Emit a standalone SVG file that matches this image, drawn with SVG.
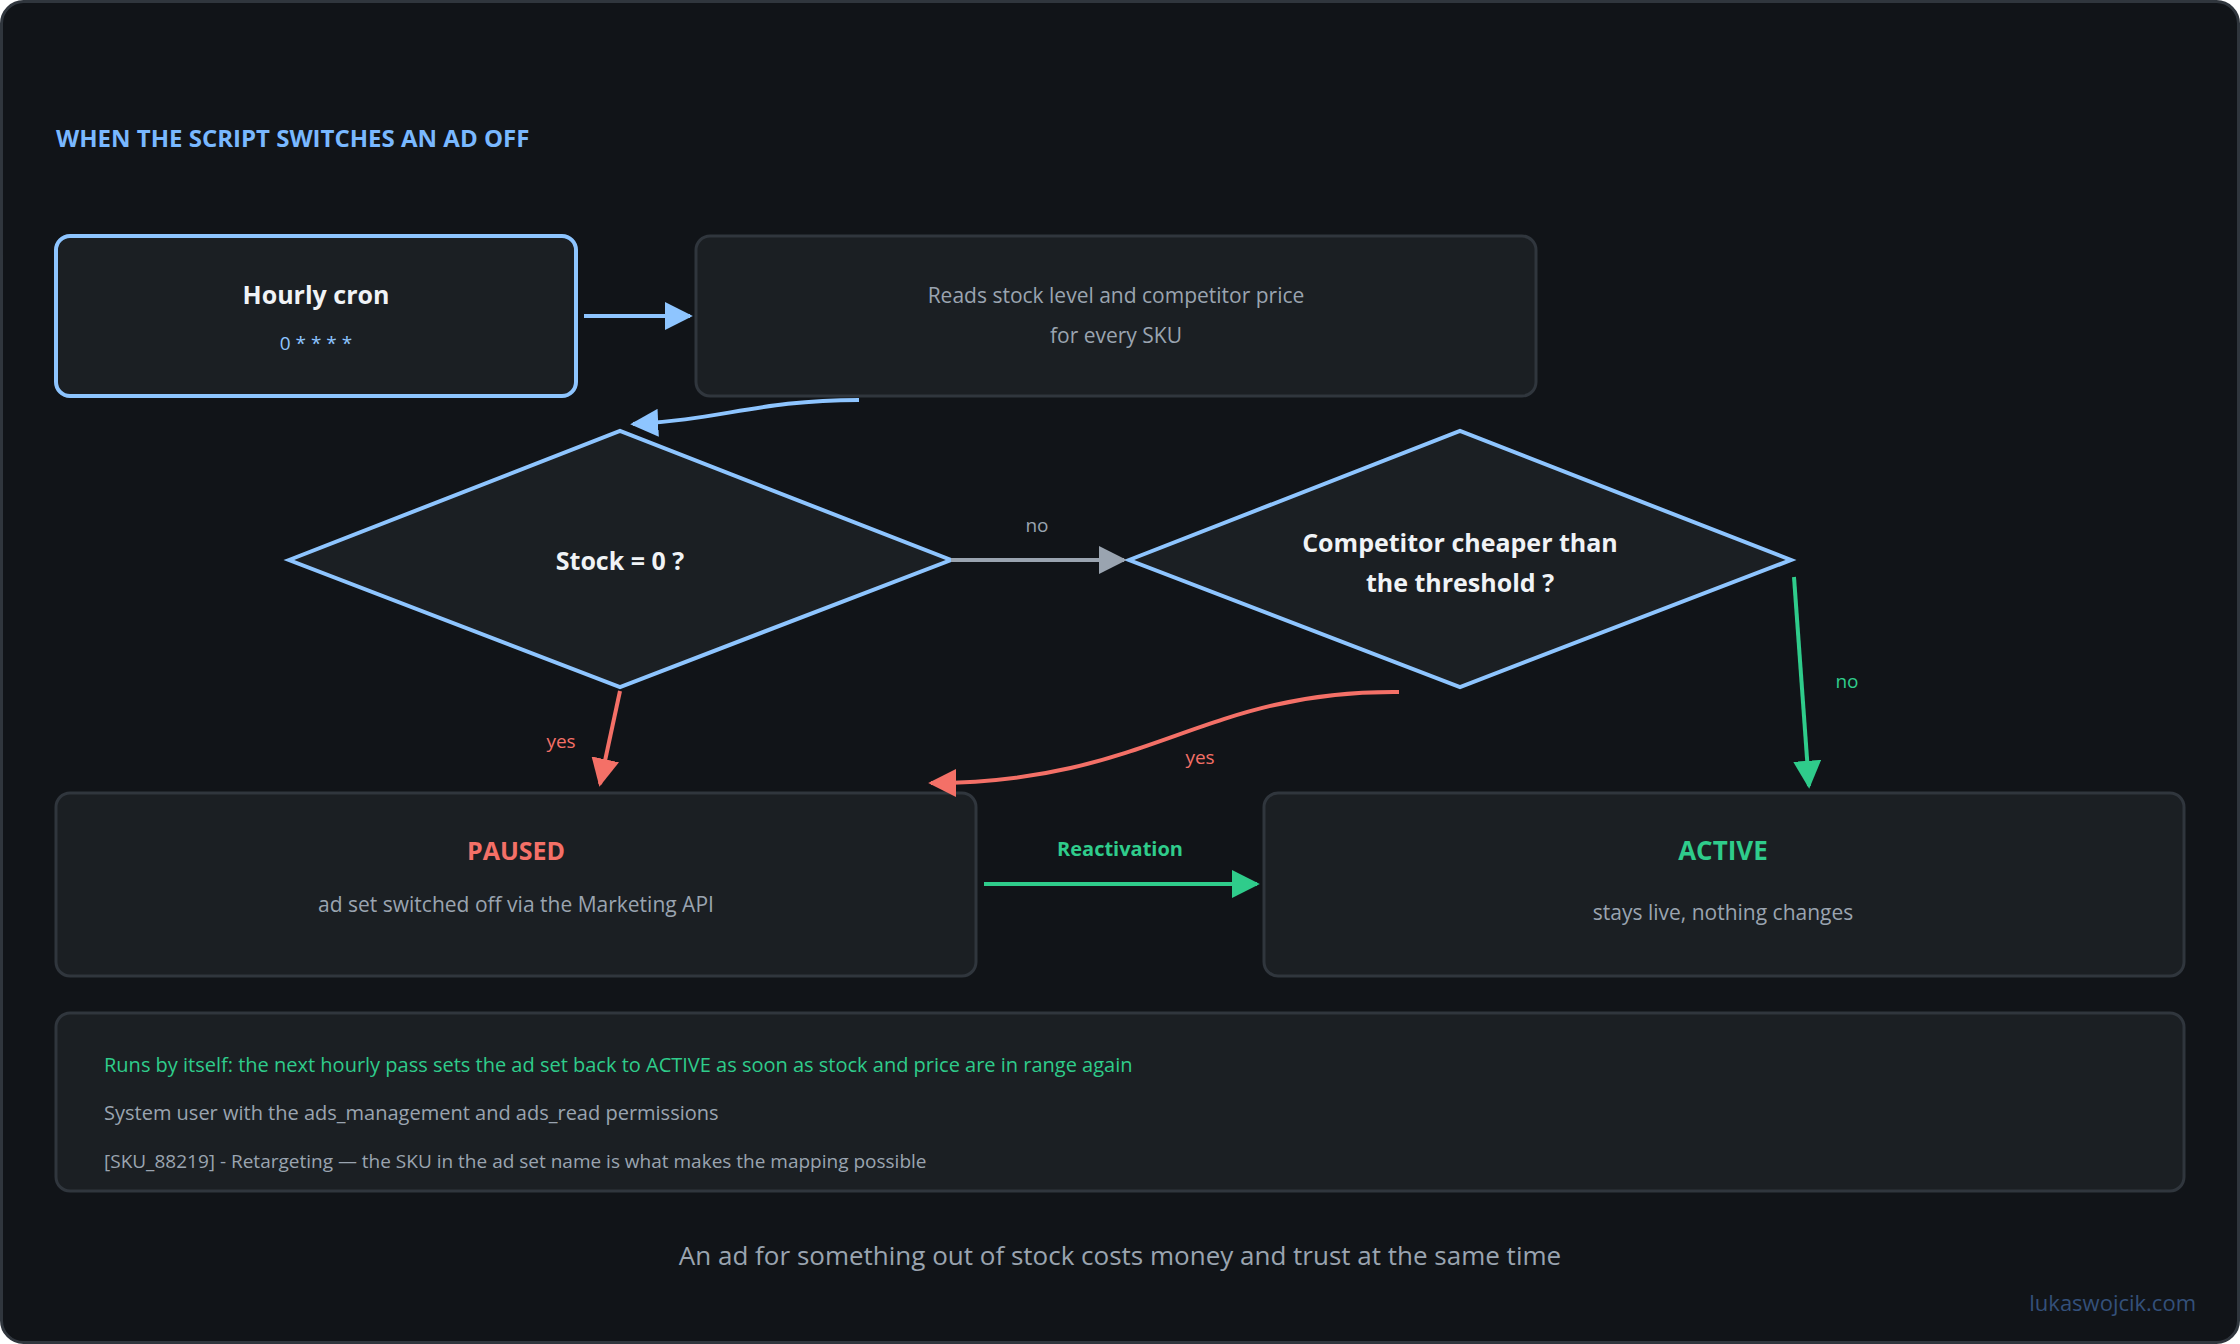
<svg xmlns="http://www.w3.org/2000/svg" width="2240" height="1344" viewBox="0 0 2240 1344">
<defs>
<style>
text{font-family:"Open Sans","Noto Sans","Liberation Sans",sans-serif}
.node{fill:#1b1f23;stroke:#30363d;stroke-width:3}
.hi{fill:#1b1f23;stroke:#8ec5ff;stroke-width:4}
.t{fill:#f0f3f6;font-weight:700;font-size:25px;text-anchor:middle}
.s{fill:#9aa4b0;font-size:21px;text-anchor:middle}
.l{font-size:19px;text-anchor:middle}
</style>
<marker id="mb" markerWidth="10" markerHeight="10" refX="9" refY="5" orient="auto" markerUnits="userSpaceOnUse" viewBox="0 0 10 10"><path d="M0,0L10,5L0,10z" fill="#8ec5ff"/></marker>
<marker id="ab" viewBox="0 0 10 10" refX="9" refY="5" markerWidth="28" markerHeight="28" orient="auto" markerUnits="userSpaceOnUse"><path d="M0,0L10,5L0,10z" fill="#8ec5ff"/></marker>
<marker id="ag" viewBox="0 0 10 10" refX="9" refY="5" markerWidth="28" markerHeight="28" orient="auto" markerUnits="userSpaceOnUse"><path d="M0,0L10,5L0,10z" fill="#2fcc8b"/></marker>
<marker id="ar" viewBox="0 0 10 10" refX="9" refY="5" markerWidth="28" markerHeight="28" orient="auto" markerUnits="userSpaceOnUse"><path d="M0,0L10,5L0,10z" fill="#f47067"/></marker>
<marker id="ay" viewBox="0 0 10 10" refX="9" refY="5" markerWidth="28" markerHeight="28" orient="auto" markerUnits="userSpaceOnUse"><path d="M0,0L10,5L0,10z" fill="#9aa4b0"/></marker>
</defs>
<rect x="1.5" y="1.5" width="2237" height="1341" rx="22" fill="#111418" stroke="#30363d" stroke-width="3"/>
<text x="56" y="147" font-size="24" font-weight="700" fill="#79b8ff">WHEN THE SCRIPT SWITCHES AN AD OFF</text>

<g id="cron"><rect class="hi" x="56" y="236" width="520" height="160" rx="14"/>
<text class="t" x="316" y="304">Hourly cron</text>
<text x="316" y="350" font-family="'DejaVu Sans Mono',monospace" font-size="19" fill="#8ec5ff" text-anchor="middle">0 * * * *</text></g>
<g id="reads"><rect class="node" x="696" y="236" width="840" height="160" rx="14"/>
<text class="s" x="1116" y="303">Reads stock level and competitor price</text>
<text class="s" x="1116" y="343">for every SKU</text></g>
<g id="stock"><polygon points="289,560 620,431 951,560 620,687" fill="#1b1f23" stroke="#8ec5ff" stroke-width="4"/>
<text class="t" x="620" y="570">Stock = 0 ?</text></g>
<g id="competitor"><polygon points="1129,560 1460,431 1791,560 1460,687" fill="#1b1f23" stroke="#8ec5ff" stroke-width="4"/>
<text class="t" x="1460" y="552">Competitor cheaper than</text>
<text class="t" x="1460" y="592">the threshold ?</text></g>
<g id="paused"><rect class="node" x="56" y="793" width="920" height="183" rx="14"/>
<text x="516" y="860" font-size="25" font-weight="700" fill="#f47067" text-anchor="middle">PAUSED</text>
<text class="s" x="516" y="912" font-size="20">ad set switched off via the Marketing API</text></g>
<g id="active"><rect class="node" x="1264" y="793" width="920" height="183" rx="14"/>
<text x="1723" y="860" font-family="'DejaVu Sans Mono',monospace" font-size="26" font-weight="700" fill="#2fcc8b" text-anchor="middle">ACTIVE</text>
<text class="s" x="1723" y="920" font-size="20">stays live, nothing changes</text></g>
<g id="notes"><rect class="node" x="56" y="1013" width="2128" height="178" rx="14"/>
<text x="104" y="1072" font-size="20" fill="#2fcc8b">Runs by itself: the next hourly pass sets the ad set back to ACTIVE as soon as stock and price are in range again</text>
<text x="104" y="1120" font-size="20" fill="#9aa4b0">System user with the ads_management and ads_read permissions</text>
<text x="104" y="1168" font-size="19" fill="#9aa4b0">[SKU_88219] - Retargeting — the SKU in the ad set name is what makes the mapping possible</text></g>

<g id="connectors" fill="none" stroke-width="4">
<path d="M584,316H690" stroke="#8ec5ff" marker-end="url(#ab)"/>
<path d="M859,400C760,400 720,420 633,424" stroke="#8ec5ff" marker-end="url(#ab)"/>
<path d="M951,560H1124" stroke="#9aa4b0" marker-end="url(#ay)"/>
<path d="M1794,577L1809,786" stroke="#2fcc8b" marker-end="url(#ag)"/>
<path d="M620,691L600,784" stroke="#f47067" marker-end="url(#ar)"/>
<path d="M1399,692C1200,690 1150,783 931,783" stroke="#f47067" marker-end="url(#ar)"/>
<path d="M984,884H1257" stroke="#2fcc8b" marker-end="url(#ag)"/>
</g>
<text class="l" x="1037" y="532" fill="#9aa4b0">no</text>
<text class="l" x="1847" y="688" fill="#2fcc8b">no</text>
<text class="l" x="561" y="748" fill="#f47067">yes</text>
<text class="l" x="1200" y="764" fill="#f47067">yes</text>
<text x="1120" y="856" font-size="20" font-weight="700" fill="#2fcc8b" text-anchor="middle">Reactivation</text>
<text x="1120" y="1265" font-size="26" fill="#9aa4b0" text-anchor="middle">An ad for something out of stock costs money and trust at the same time</text>
<text x="2196" y="1311" font-size="22" fill="#34507a" text-anchor="end">lukaswojcik.com</text>
</svg>
